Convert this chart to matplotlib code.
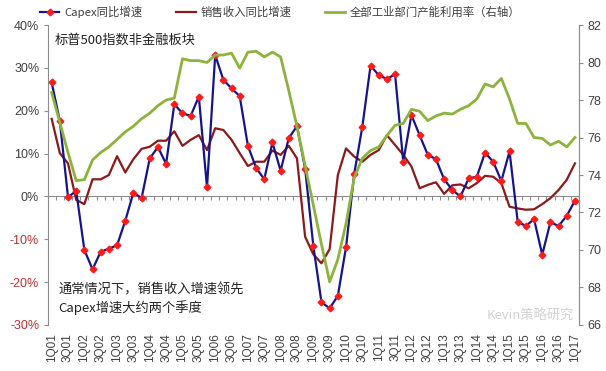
import numpy as np
import matplotlib.pyplot as plt

# 季度数据 1Q01 - 1Q17
capex = [26.6, 17.6, -0.2, 1.3, -12.5, -17.0, -12.9, -12.2, -11.4, -5.7,
         0.9, -0.4, 8.9, 11.5, 7.6, 21.5, 19.4, 18.8, 23.3, 2.1,
         33.0, 27.2, 25.2, 23.4, 11.8, 6.7, 4.0, 12.6, 6.0, 13.6,
         16.4, 6.5, -11.5, -24.7, -26.1, -23.2, -11.9, 5.2, 16.3, 30.5,
         28.3, 27.4, 28.5, 8.1, 19.0, 14.3, 9.7, 8.7, 4.0, 1.5,
         0.0, 4.2, 4.6, 10.2, 8.1, 3.6, 10.5, -5.9, -6.9, -5.3,
         -13.6, -6.0, -6.9, -4.5, -1.0]
sales = [18.1, 10.1, 7.7, -0.8, -1.8, 4.0, 4.0, 5.0, 9.4, 5.6,
         8.7, 11.1, 11.6, 13.0, 13.0, 15.2, 11.8, 13.2, 14.3, 10.8,
         15.9, 15.5, 13.2, 10.1, 7.1, 8.1, 8.1, 10.7, 9.7, 11.8,
         8.9, -9.4, -13.5, -15.6, -12.3, 5.0, 11.2, 9.3, 8.1, 9.7,
         10.8, 14.3, 12.0, 9.7, 7.0, 1.9, 2.7, 3.3, 0.6, 2.6,
         2.8, 1.9, 3.1, 4.8, 4.6, 3.1, -2.4, -2.8, -3.1, -3.0,
         -1.8, -0.4, 1.5, 3.9, 7.7]
capacity = [78.4, 76.8, 75.2, 73.7, 73.75, 74.8, 75.2, 75.5, 75.9, 76.3,
            76.6, 77.0, 77.3, 77.7, 78.0, 78.1, 80.2, 80.1, 80.1, 80.0,
            80.4, 80.4, 80.5, 79.7, 80.55, 80.6, 80.3, 80.55, 80.3, 78.5,
            76.6, 74.5, 72.4, 70.3, 68.3, 69.5, 71.4, 73.85, 74.9, 75.3,
            75.5, 76.1, 76.65, 76.75, 77.5, 77.4, 76.9, 77.15, 77.3, 77.25,
            77.5, 77.7, 78.05, 78.85, 78.7, 79.15, 78.05, 76.75, 76.75, 76.0,
            75.95, 75.6, 75.8, 75.5, 76.0]
tick_labels = ['1Q01', '3Q01', '1Q02', '3Q02', '1Q03', '3Q03', '1Q04', '3Q04',
               '1Q05', '3Q05', '1Q06', '3Q06', '1Q07', '3Q07', '1Q08', '3Q08',
               '1Q09', '3Q09', '1Q10', '3Q10', '1Q11', '3Q11', '1Q12', '3Q12',
               '1Q13', '3Q13', '1Q14', '3Q14', '1Q15', '3Q15', '1Q16', '3Q16',
               '1Q17']
left_ticks = [-30, -20, -10, 0, 10, 20, 30, 40]
right_ticks = [66, 68, 70, 72, 74, 76, 78, 80, 82]

plt.rcParams['font.family'] = ['Noto Sans CJK SC', 'DejaVu Sans']
num_font = 'Liberation Sans'
grey = '#8c8c8c'
txt = '#404040'

fig = plt.figure(figsize=(6.06, 3.71), dpi=100)
ax = fig.add_axes([0.0785, 0.124, 0.877, 0.8086])

x = np.arange(len(capex))
l2, = ax.plot(x, sales, color='#8b1a1a', lw=1.6)
l1, = ax.plot(x, capex, color='#14148c', lw=1.6, marker='D', ms=3.4,
              mfc='#ff1a1a', mec='#ff1a1a')

ax2 = ax.twinx()
l3, = ax2.plot(x, capacity, color='#8cb43c', lw=2.0)

ax.set_xlim(-0.5, len(capex) - 0.5)
ax.set_ylim(-30, 40)
ax2.set_ylim(66, 82)

# 左轴
ax.set_yticks(left_ticks)
ax.set_yticklabels([f'{v}%' for v in left_ticks], family=num_font, fontsize=9)
for lab, v in zip(ax.get_yticklabels(), left_ticks):
    lab.set_color('#b83232' if v < 0 else txt)
ax.tick_params(axis='y', length=3, color=grey, pad=3)

# 右轴
ax2.set_yticks(right_ticks)
ax2.set_yticklabels([str(v) for v in right_ticks], family=num_font,
                    fontsize=9, color=txt)
ax2.tick_params(axis='y', length=3, color=grey, pad=3)

# 横轴标签
ax.set_xticks(x[::2])
ax.set_xticklabels(tick_labels, rotation=90, family=num_font, fontsize=8.5,
                   color=txt)
ax.tick_params(axis='x', length=0, pad=6)

for a in (ax, ax2):
    a.spines['top'].set_visible(False)
    a.spines['bottom'].set_visible(False)
    for s in a.spines.values():
        s.set_color(grey)
ax2.spines['left'].set_visible(False)

# 0轴线和刻度
zero = ax.secondary_xaxis(30 / 70)
zero.set_xticks(x[:-1] + 0.5)
zero.tick_params(length=3, color=grey, labelbottom=False, labeltop=False)
for s in zero.spines.values():
    s.set_color(grey)

fig.legend([l1, l2, l3],
           ['Capex同比增速', '销售收入同比增速', '全部工业部门产能利用率（右轴）'],
           loc='center', bbox_to_anchor=(0.462, 1 - 12 / 371), ncol=3,
           frameon=False, fontsize=8.2, handlelength=1.7, handletextpad=0.4,
           columnspacing=3.0, labelcolor=txt)

fig.text(55 / 606, 1 - 40 / 371, '标普500指数非金融板块', fontsize=9.5,
         va='center', color='#222222')
fig.text(58 / 606, 1 - 290 / 371, '通常情况下，销售收入增速领先', fontsize=9.5,
         va='center', color='#222222')
fig.text(58 / 606, 1 - 308 / 371, 'Capex增速大约两个季度', fontsize=9.5,
         va='center', color='#222222')
fig.text(487 / 606, 1 - 316 / 371, 'Kevin策略研究', fontsize=9.5,
         va='center', color='#c8c8c8', alpha=0.8)

fig.savefig('out.png', dpi=100, facecolor='white')
